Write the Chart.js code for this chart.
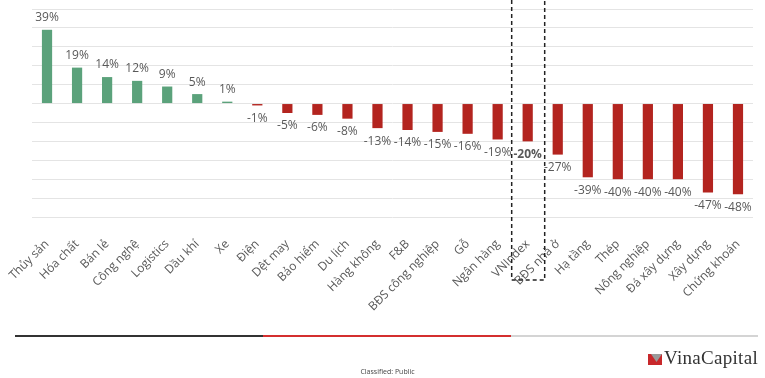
<!DOCTYPE html>
<html>
<head>
<meta charset="utf-8">
<script src="https://cdn.jsdelivr.net/npm/chart.js@4"></script>
<style>
  html, body { margin: 0; padding: 0; background: #fff; }
  #wrap { position: relative; width: 765px; height: 378px; overflow: hidden; }
  #chart { position: absolute; left: 0; top: 0; }
  .seg { position: absolute; top: 335px; height: 2px; }
  #classified { position: absolute; top: 367px; left: 0; width: 775px; text-align: center;
    font: 7px "Open Sans", sans-serif; color: #444; }
  #logo { position: absolute; left: 648px; top: 347px; font: 19px "Liberation Serif", serif; color: #333;
    white-space: nowrap; letter-spacing: 0.3px; }
  #logo svg { vertical-align: -1px; margin-right: 2px; }
</style>
</head>
<body>
<div id="wrap">
  <canvas id="chart" width="765" height="378"></canvas>
  <div class="seg" style="left:15px;width:248px;background:#333"></div>
  <div class="seg" style="left:263px;width:248px;background:#d42f2f"></div>
  <div class="seg" style="left:511px;width:247px;background:#d4d4d4"></div>
  <div id="classified">Classified: Public</div>
  <div id="logo"><svg width="14" height="11" viewBox="0 0 14 11"><rect width="14" height="11" fill="#c8282b"/><polygon points="3,0 14,0 8.5,8" fill="#9a9a9a"/></svg>VinaCapital</div>
</div>
<script>
const sectors = ['Thủy sản', 'Hóa chất', 'Bán lẻ', 'Công nghệ', 'Logistics', 'Dầu khí', 'Xe', 'Điện',
  'Dệt may', 'Bảo hiểm', 'Du lịch', 'Hàng không', 'F&B', 'BĐS công nghiệp', 'Gỗ', 'Ngân hàng',
  'VNIndex', 'BĐS nhà ở', 'Hạ tầng', 'Thép', 'Nông nghiệp', 'Đá xây dựng', 'Xây dựng', 'Chứng khoán'];
const changes = [39, 19, 14, 12, 9, 5, 1, -1, -5, -6, -8, -13, -14, -15, -16, -19,
  -20, -27, -39, -40, -40, -40, -47, -48];
const highlight = 'VNIndex';

const labelPlugin = {
  id: 'barLabels',
  afterDatasetsDraw(chart) {
    const ctx = chart.ctx;
    const meta = chart.getDatasetMeta(0);
    ctx.save();
    ctx.fillStyle = '#595959';
    ctx.textAlign = 'center';
    ctx.textBaseline = 'middle';
    meta.data.forEach((bar, i) => {
      const v = changes[i];
      ctx.font = (sectors[i] === highlight ? 'bold ' : '') + '12px "Open Sans", sans-serif';
      const y = v >= 0 ? bar.y - 12 : bar.y + 13;
      ctx.fillText(v + '%', bar.x, y);
    });
    ctx.restore();
  }
};

// dashed frame around the VNIndex column
const boxPlugin = {
  id: 'highlightBox',
  afterDraw(chart) {
    const x = chart.scales.x.getPixelForValue(sectors.indexOf(highlight));
    const ctx = chart.ctx;
    ctx.save();
    ctx.strokeStyle = '#222';
    ctx.lineWidth = 1.5;
    ctx.setLineDash([4, 3]);
    ctx.beginPath();
    ctx.moveTo(x - 16, 0);
    ctx.lineTo(x - 16, 280);
    ctx.lineTo(x + 17, 280);
    ctx.lineTo(x + 17, 0);
    ctx.stroke();
    ctx.restore();
  }
};

new Chart(document.getElementById('chart'), {
  type: 'bar',
  data: {
    labels: sectors,
    datasets: [{
      data: changes,
      backgroundColor: changes.map(v => v >= 0 ? '#5ba27b' : '#b3241f'),
      barPercentage: 0.34,
      categoryPercentage: 1
    }]
  },
  options: {
    responsive: false,
    animation: false,
    layout: { padding: { top: 9, left: 32, right: 12, bottom: 0 } },
    plugins: { legend: { display: false }, tooltip: { enabled: false } },
    scales: {
      x: {
        grid: { display: false },
        border: { display: false },
        ticks: {
          color: '#595959',
          font: { family: 'Open Sans', size: 12 },
          minRotation: 45,
          maxRotation: 45,
          autoSkip: false,
          padding: 12
        },
        afterFit(scale) {
          scale.height = 161;
          scale.paddingLeft = 0;
          scale.paddingRight = 0;
        }
      },
      y: {
        min: -60,
        max: 50,
        ticks: { display: false, stepSize: 10 },
        grid: { color: '#e4e4e4', drawTicks: false },
        border: { display: false },
        afterFit(scale) { scale.width = 0; }
      }
    }
  },
  plugins: [labelPlugin, boxPlugin]
});
</script>
</body>
</html>
